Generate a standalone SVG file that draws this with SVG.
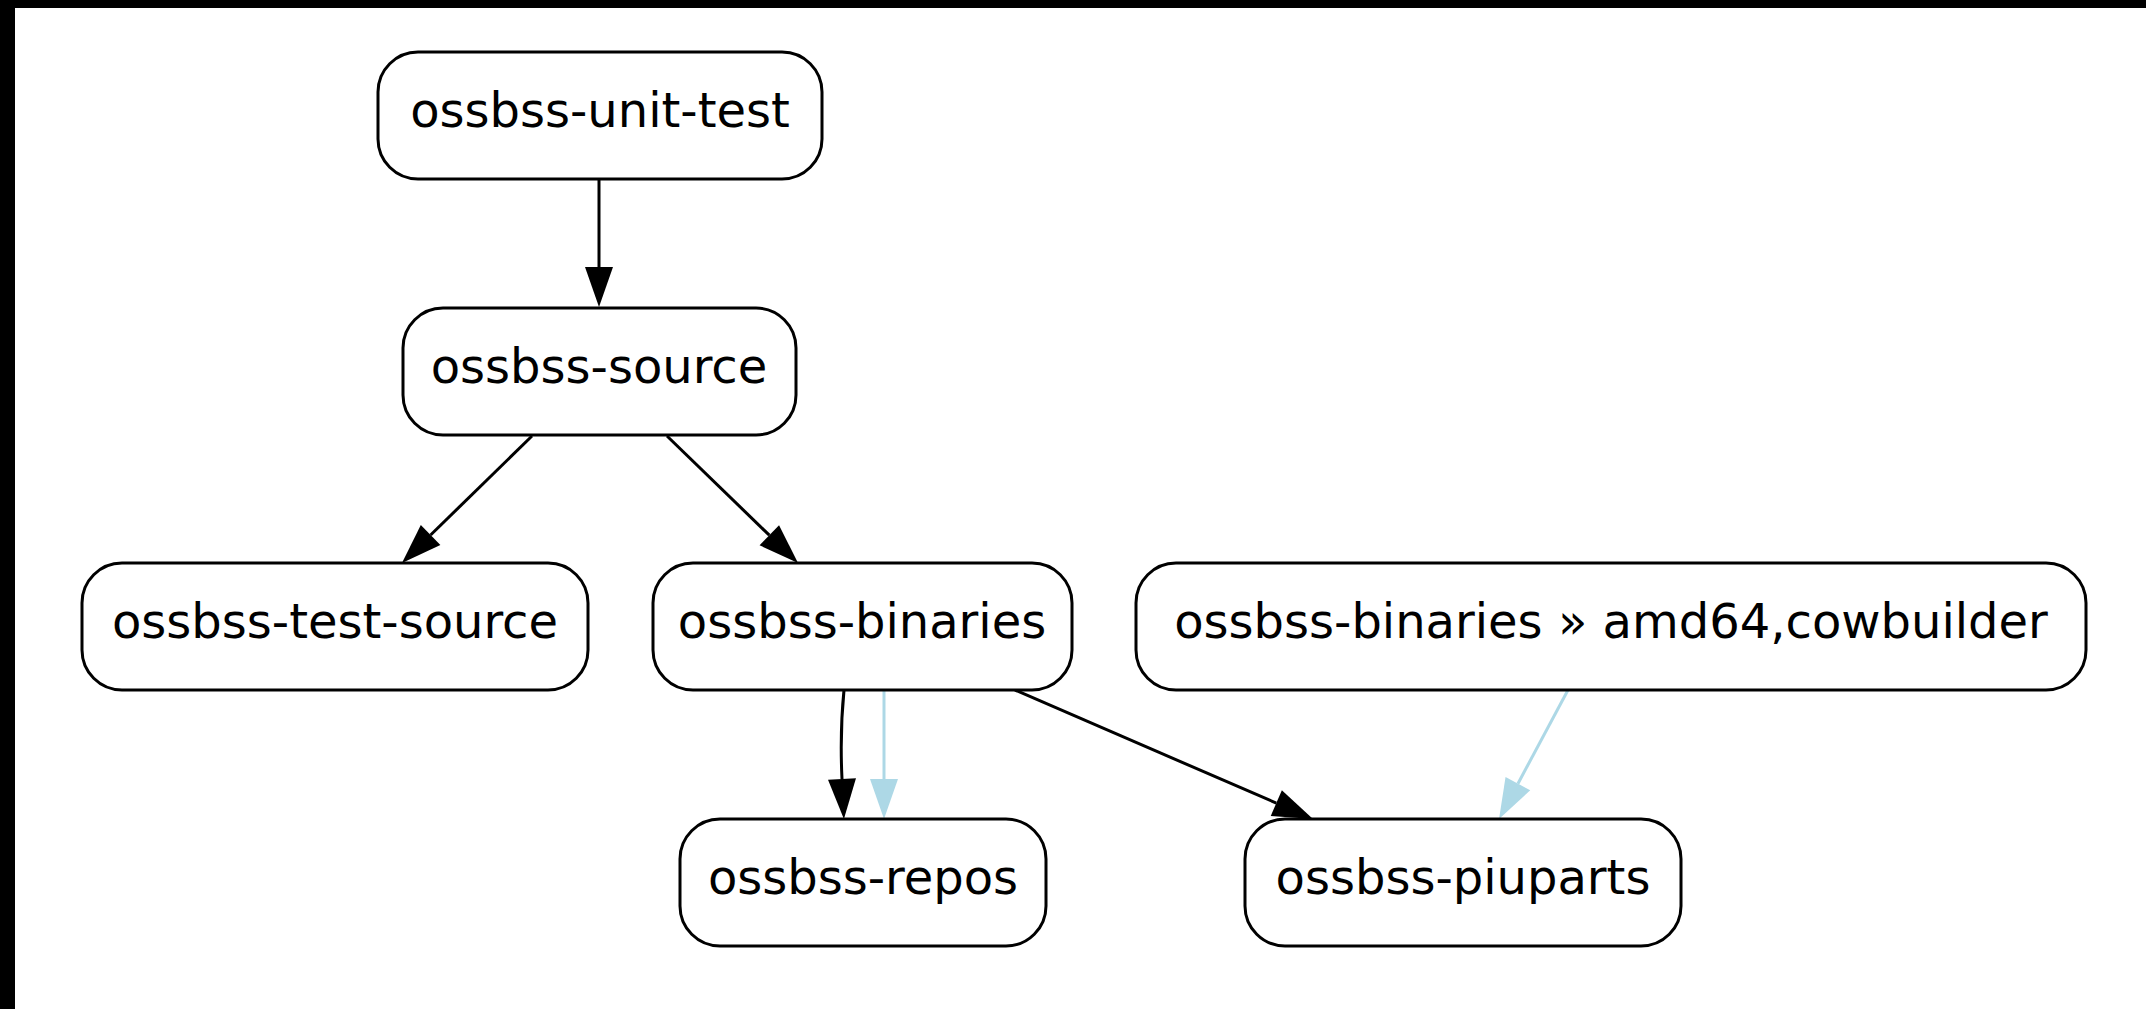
<svg xmlns="http://www.w3.org/2000/svg" width="2146" height="1009" viewBox="0 0 2146 1009">
<style>
.node rect{fill:#ffffff;stroke:#000000;stroke-width:3}
.node text{font-family:"DejaVu Sans","Liberation Sans",sans-serif;font-size:48px;fill:#000000;text-anchor:middle}
.edge{fill:none;stroke-width:3}
.black{stroke:#000000}
.blue{stroke:#add8e6}
</style>
<defs>
<marker id="ahBlack" markerUnits="userSpaceOnUse" markerWidth="40" markerHeight="28" refX="0" refY="14" orient="auto" overflow="visible"><path d="M0,0 L40,14 L0,28 z" fill="#000000"/></marker>
<marker id="ahBlue" markerUnits="userSpaceOnUse" markerWidth="40" markerHeight="28" refX="0" refY="14" orient="auto" overflow="visible"><path d="M0,0 L40,14 L0,28 z" fill="#add8e6"/></marker>
</defs>
<rect x="0" y="0" width="2146" height="1009" fill="#000000"/>
<rect x="15" y="8" width="2131" height="1001" fill="#ffffff"/>
<g id="connectors">
<path class="edge black" d="M599,179 L599,267" marker-end="url(#ahBlack)"/>
<path class="edge black" d="M532,436 L430.6,535" marker-end="url(#ahBlack)"/>
<path class="edge black" d="M667,436 L769.3,535.2" marker-end="url(#ahBlack)"/>
<path class="edge black" d="M844,690 C841,720 841,758 842,779" marker-end="url(#ahBlack)"/>
<path class="edge blue" d="M884,690 L884,779" marker-end="url(#ahBlue)"/>
<path class="edge black" d="M1015,690 L1276.3,803.1" marker-end="url(#ahBlack)"/>
<path class="edge blue" d="M1568,690 L1517.9,783.7" marker-end="url(#ahBlue)"/>
</g>
<g id="node-unit-test" class="node"><rect x="378" y="52" width="444" height="127" rx="40" ry="40"/><text x="600" y="127">ossbss-unit-test</text></g>
<g id="node-source" class="node"><rect x="403" y="308" width="393" height="127" rx="40" ry="40"/><text x="599" y="383">ossbss-source</text></g>
<g id="node-test-source" class="node"><rect x="82" y="563" width="506" height="127" rx="40" ry="40"/><text x="335" y="638">ossbss-test-source</text></g>
<g id="node-binaries" class="node"><rect x="653" y="563" width="419" height="127" rx="40" ry="40"/><text x="862" y="638">ossbss-binaries</text></g>
<g id="node-binaries-amd64" class="node"><rect x="1136" y="563" width="950" height="127" rx="40" ry="40"/><text x="1611" y="638">ossbss-binaries » amd64,cowbuilder</text></g>
<g id="node-repos" class="node"><rect x="680" y="819" width="366" height="127" rx="40" ry="40"/><text x="863" y="894">ossbss-repos</text></g>
<g id="node-piuparts" class="node"><rect x="1245" y="819" width="436" height="127" rx="40" ry="40"/><text x="1463" y="894">ossbss-piuparts</text></g>
</svg>
